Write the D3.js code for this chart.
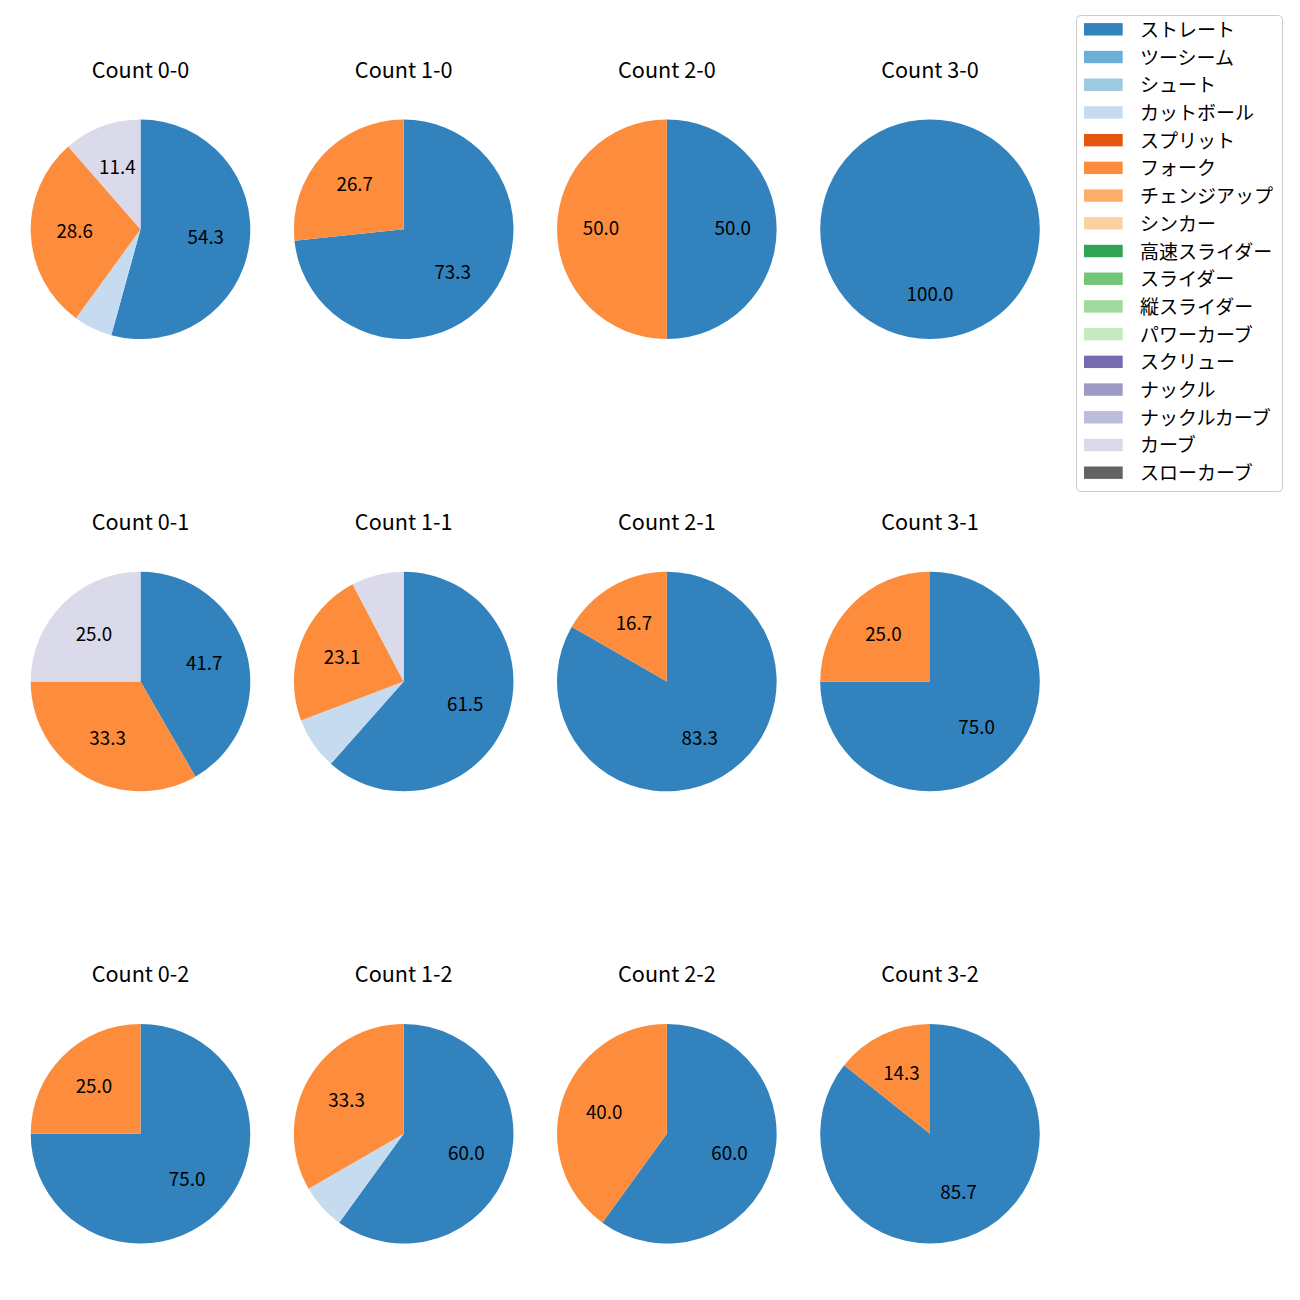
<!DOCTYPE html>
<html>
<head>
<meta charset="utf-8">
<script src="https://cdn.jsdelivr.net/npm/d3@7"></script>
<style>
  html, body { margin: 0; padding: 0; background: #fff; }
  svg { display: block; }
  text { font-family: "Noto Sans CJK JP", "Noto Sans", sans-serif; }
</style>
</head>
<body>
<svg id="chart" width="1300" height="1300"></svg>
<script>
// Pitch types (legend order) and their colours
const pitchTypes = ["ストレート","ツーシーム","シュート","カットボール","スプリット","フォーク","チェンジアップ","シンカー","高速スライダー","スライダー","縦スライダー","パワーカーブ","スクリュー","ナックル","ナックルカーブ","カーブ","スローカーブ"];
const pitchColors = ["#3182bd","#6baed6","#9ecae1","#c6dbef","#e6550d","#fd8d3c","#fdae6b","#fdd0a2","#31a354","#74c476","#a1d99b","#c7e9c0","#756bb1","#9e9ac8","#bcbddc","#dadaeb","#636363"];

// Count situations (balls-strikes), laid out row = strikes, column = balls
const countLabels = ["0-0","1-0","2-0","3-0","0-1","1-1","2-1","3-1","0-2","1-2","2-2","3-2"];

// Pitch counts per situation (only types that appear)
const straight = [19, 11, 1, 1, 5, 8, 5, 3, 3, 9, 3, 6];
const cutball  = [ 2,  0, 0, 0, 0, 1, 0, 0, 0, 1, 0, 0];
const fork     = [10,  4, 1, 0, 4, 3, 1, 1, 1, 5, 2, 1];
const curve    = [ 4,  0, 0, 0, 3, 1, 0, 0, 0, 0, 0, 0];

const seriesByType = {"ストレート": straight, "カットボール": cutball, "フォーク": fork, "カーブ": curve};

const svg = d3.select("#chart");
const color = d3.scaleOrdinal().domain(pitchTypes).range(pitchColors);

const colX = d3.scalePoint().domain([0,1,2,3]).range([140.5, 930]);
const rowY = d3.scalePoint().domain([0,1,2]).range([229.3, 1133.8]);
const R = 109.8;

const pie = d3.pie().sort(null).value(d => d.value);
const arc = d3.arc().innerRadius(0).outerRadius(R);
const labelArc = d3.arc().innerRadius(R * 0.6).outerRadius(R * 0.6);

countLabels.forEach((c, i) => {
  const col = i % 4, row = Math.floor(i / 4);
  const cx = colX(col), cy = rowY(row);
  const data = pitchTypes.map(t => ({type: t, value: seriesByType[t] ? seriesByType[t][i] : 0}))
                         .filter(d => d.value > 0);
  const total = d3.sum(data, d => d.value);
  const g = svg.append("g").attr("transform", `translate(${cx},${cy})`);
  const arcs = pie(data);
  g.selectAll("path").data(arcs).join("path")
    .attr("d", arc)
    .attr("fill", d => color(d.data.type));
  g.selectAll("text.lbl").data(arcs.filter(d => d.data.value / total * 100 >= 10)).join("text")
    .attr("class", "lbl")
    .attr("transform", d => { const p = labelArc.centroid(d); return `translate(${p[0]},${p[1] - 2.5})`; })
    .attr("text-anchor", "middle")
    .attr("dominant-baseline", "central")
    .attr("font-size", 18.8)
    .attr("fill", "#000")
    .text(d => (d.data.value / total * 100).toFixed(1));
  svg.append("text")
    .attr("x", cx)
    .attr("y", cy - 161)
    .attr("text-anchor", "middle")
    .attr("dominant-baseline", "central")
    .attr("font-size", 21.6)
    .attr("fill", "#000")
    .text("Count " + c);
});

// Legend
const legend = svg.append("g");
legend.append("rect")
  .attr("x", 1076.5).attr("y", 15.5)
  .attr("width", 206).attr("height", 476)
  .attr("rx", 4).attr("ry", 4)
  .attr("fill", "#fff").attr("stroke", "#cccccc").attr("stroke-width", 1);
const ly = d3.scalePoint().domain(pitchTypes).range([29.3, 472.7]);
const items = legend.selectAll("g.item").data(pitchTypes).join("g").attr("class", "item")
  .attr("transform", d => `translate(0,${ly(d)})`);
items.append("rect")
  .attr("x", 1084).attr("y", -6.2).attr("width", 38.7).attr("height", 12.4)
  .attr("fill", d => color(d));
items.append("text")
  .attr("x", 1140).attr("y", -1)
  .attr("dominant-baseline", "central")
  .attr("font-size", 19)
  .attr("fill", "#000")
  .text(d => d);
</script>
</body>
</html>
